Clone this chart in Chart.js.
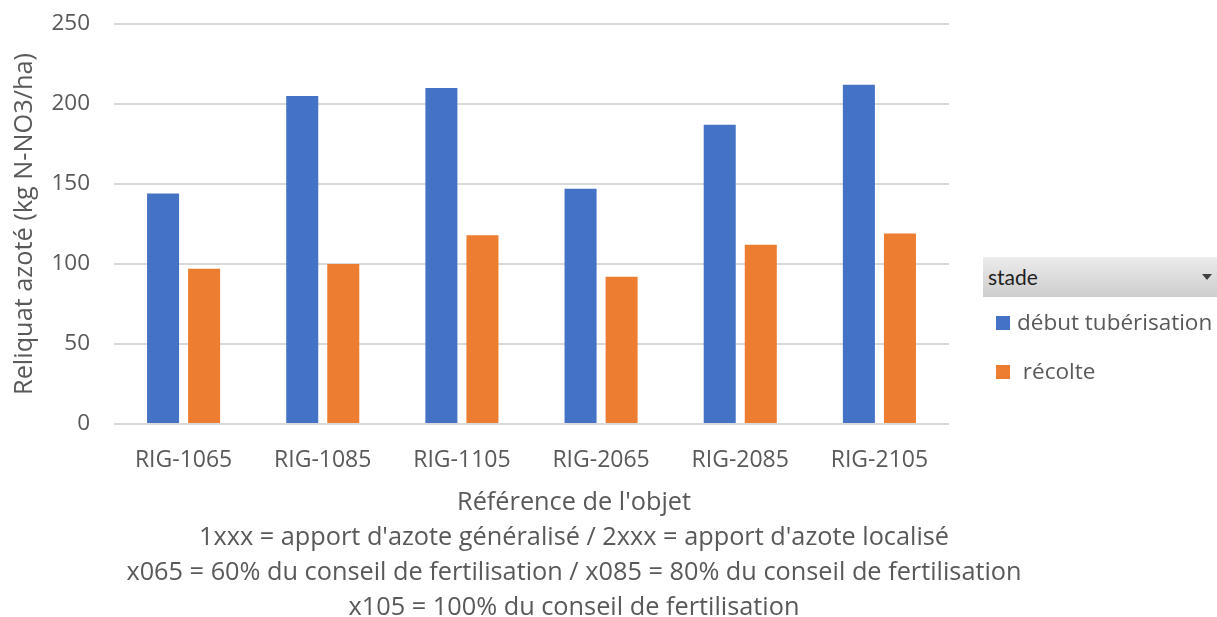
<!DOCTYPE html>
<html lang="fr">
<head>
<meta charset="utf-8">
<title>Reliquat azoté par objet</title>
<script src="https://cdn.jsdelivr.net/npm/chart.js@4/dist/chart.umd.min.js"></script>
<style>
  html, body { margin: 0; padding: 0; background: #ffffff; }
  body { width: 1217px; height: 617px; position: relative; overflow: hidden; }
  #chartBox { position: absolute; left: 0; top: 0; width: 1148px; height: 617px; }
  #legend { position: absolute; left: 983px; top: 257px; width: 234px; font-family: "Open Sans", sans-serif; }
  #legend .head {
    height: 40px; box-sizing: border-box; padding-left: 5px;
    background: linear-gradient(to bottom, #ececec, #cdcdcd);
    font-family: "Lato", "Open Sans", sans-serif; font-size: 21px; color: #1f1f1f;
    line-height: 40px; position: relative;
  }
  #legend .head .arrow {
    position: absolute; right: 5px; top: 17px; width: 0; height: 0;
    border-left: 5px solid transparent; border-right: 5px solid transparent; border-top: 6px solid #404040;
  }
  #legend ul { list-style: none; margin: 0; padding: 0; }
  #legend li { position: relative; height: 49px; font-size: 22.5px; color: #595959; white-space: pre; }
  #legend li .swatch { position: absolute; left: 13px; top: 19px; width: 14px; height: 14px; }
  #legend li .label { position: absolute; left: 34px; top: 10px; line-height: 30px; }
</style>
</head>
<body>
<div id="chartBox"><canvas id="chart"></canvas></div>
<div id="legend"><div class="head">stade<span class="arrow"></span></div><ul id="legendItems"></ul></div>
<script>
// Objets testés (référence de l'objet)
const categories = ['RIG-1065', 'RIG-1085', 'RIG-1105', 'RIG-2065', 'RIG-2085', 'RIG-2105'];

// Reliquat azoté (kg N-NO3/ha) par stade
const debutTuberisation = [144, 205, 210, 147, 187, 212];
const recolte = [97, 100, 118, 92, 112, 119];

// Noms des séries
const seriesNames = ['début tubérisation', ' récolte'];

// Axe des valeurs
const yMin = 0;
const yMax = 250;
const yStep = 50;

// Titre de l'axe des valeurs
const yTitle = 'Reliquat azoté (kg N-NO3/ha)';

// Titre de l'axe des objets et notes explicatives
const xTitleLines = [
  "Référence de l'objet",
  "1xxx = apport d'azote généralisé / 2xxx = apport d'azote localisé",
  'x065 = 60% du conseil de fertilisation / x085 = 80% du conseil de fertilisation',
  'x105 = 100% du conseil de fertilisation'
];

const textGrey = '#595959';
const fontFamily = '"Open Sans", sans-serif';

// Légende HTML construite à partir des jeux de données du graphique
const htmlLegend = {
  id: 'htmlLegend',
  afterUpdate(chart) {
    const list = document.getElementById('legendItems');
    list.innerHTML = '';
    const items = chart.options.plugins.legend.labels.generateLabels(chart);
    items.forEach(item => {
      const li = document.createElement('li');
      const sw = document.createElement('span');
      sw.className = 'swatch';
      sw.style.background = item.fillStyle;
      const tx = document.createElement('span');
      tx.className = 'label';
      tx.textContent = item.text;
      li.appendChild(sw);
      li.appendChild(tx);
      list.appendChild(li);
    });
  }
};

new Chart(document.getElementById('chart'), {
  type: 'bar',
  data: {
    labels: categories,
    datasets: [
      { label: seriesNames[0], data: debutTuberisation, backgroundColor: '#4472C4', borderWidth: 0 },
      { label: seriesNames[1], data: recolte, backgroundColor: '#ED7D31', borderWidth: 0 }
    ]
  },
  options: {
    responsive: true,
    maintainAspectRatio: false,
    animation: false,
    categoryPercentage: 0.59,
    barPercentage: 0.78,
    layout: { padding: { top: 24, right: 0, bottom: -8, left: 0 } },
    plugins: {
      legend: { display: false },
      tooltip: { enabled: false },
      title: {
        display: true,
        position: 'bottom',
        text: xTitleLines,
        color: textGrey,
        font: { family: fontFamily, size: 25.3, weight: 'normal', lineHeight: '35px' },
        padding: 0
      }
    },
    scales: {
      x: {
        grid: { display: false },
        border: { display: false },
        ticks: { color: textGrey, font: { family: fontFamily, size: 23 }, padding: 15, maxRotation: 0 },
        afterFit(scale) { scale.height = 61; }
      },
      y: {
        min: yMin,
        max: yMax,
        grid: { color: '#d9d9d9', lineWidth: 2, drawTicks: false },
        border: { display: false },
        ticks: { stepSize: yStep, color: textGrey, font: { family: fontFamily, size: 22.5 }, padding: 24 },
        title: {
          display: true,
          text: yTitle,
          color: textGrey,
          font: { family: fontFamily, size: 25.3 },
          padding: { top: 10, bottom: 0 }
        },
        afterFit(scale) {
          scale.width = 114;
          scale.paddingTop = 0;
          scale.paddingBottom = 0;
        }
      },
      // espace réservé à droite de la zone de tracé
      spacer: {
        type: 'linear',
        position: 'right',
        min: 0,
        max: 1,
        grid: { display: false },
        border: { display: false },
        ticks: { display: false },
        afterFit(scale) { scale.width = 199; }
      }
    }
  },
  plugins: [htmlLegend]
});
</script>
</body>
</html>
